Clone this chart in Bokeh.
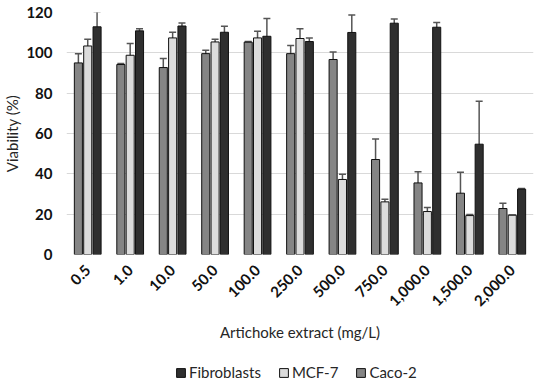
import math
from bokeh.plotting import figure
from bokeh.layouts import column
from bokeh.models import (ColumnDataSource, FactorRange, Range1d, Whisker, TeeHead,
                          Legend, LegendItem, FixedTicker)
from bokeh.transform import dodge
from bokeh.embed import file_html
from bokeh.resources import INLINE

categories = ["0.5", "1.0", "10.0", "50.0", "100.0", "250.0", "500.0", "750.0",
              "1,000.0", "1,500.0", "2,000.0"]
caco = [95.0, 94.2, 92.7, 99.6, 105.3, 99.6, 96.7, 47.1, 35.5, 30.4, 22.8]
caco_err = [4.6, 0.5, 4.5, 1.7, 0.3, 4.0, 3.7, 10.2, 5.5, 10.4, 2.6]
mcf = [103.4, 98.8, 107.4, 105.4, 107.4, 107.1, 37.2, 26.1, 21.3, 19.3, 19.5]
mcf_err = [3.3, 5.8, 2.8, 1.3, 3.3, 4.8, 2.6, 1.3, 2.0, 0.5, 0.0]
fib = [112.9, 110.9, 113.3, 110.2, 108.2, 105.6, 110.1, 114.7, 112.7, 54.7, 32.4]
fib_err = [7.5, 1.0, 1.5, 3.0, 8.8, 1.8, 8.7, 2.1, 2.3, 21.3, 0.3]
y_ticks = [0, 20, 40, 60, 80, 100, 120]

series = [
    ("Caco-2", caco, caco_err, "#858585", -0.22),
    ("MCF-7", mcf, mcf_err, "#dcdcdc", 0.0),
    ("Fibroblasts", fib, fib_err, "#2f2f2f", 0.22),
]
legend_order = ["Fibroblasts", "MCF-7", "Caco-2"]

FONT = "Lato"

p = figure(x_range=FactorRange(*categories), y_range=Range1d(0, 120),
           width=534, height=350, output_backend="svg", toolbar_location=None,
           min_border_left=60, min_border_right=1, min_border_top=12,
           min_border_bottom=96)
p.outline_line_color = None
p.background_fill_color = "white"

for name, vals, errs, color, off in series:
    src = ColumnDataSource(dict(
        x=categories, top=vals,
        upper=[v + e for v, e in zip(vals, errs)],
        lower=[v - e for v, e in zip(vals, errs)]))
    p.vbar(x=dodge("x", off, range=p.x_range), top="top", width=0.19,
           source=src, fill_color=color, line_color="#111111", line_width=1)
    w = Whisker(base=dodge("x", off, range=p.x_range), upper="upper", lower="lower",
                source=src, line_color="#555555", line_width=1.5,
                upper_head=TeeHead(size=7, line_color="#555555", line_width=1.5),
                lower_head=TeeHead(size=7, line_color="#555555", line_width=1.5))
    p.add_layout(w)

# axes
p.xgrid.grid_line_color = None
p.ygrid.grid_line_color = "#d9d9d9"
p.ygrid.grid_line_width = 1
p.yaxis.ticker = FixedTicker(ticks=y_ticks)

for ax in (p.xaxis[0], p.yaxis[0]):
    ax.axis_line_color = None
    ax.major_tick_line_color = None
    ax.minor_tick_line_color = None
    ax.major_tick_out = 0
    ax.major_tick_in = 0
    ax.major_label_text_font = FONT
    ax.major_label_text_font_style = "bold"
    ax.major_label_text_font_size = "15px"
    ax.major_label_text_color = "#111111"
    ax.axis_label_text_font = FONT
    ax.axis_label_text_font_style = "normal"
    ax.axis_label_text_font_size = "15px"
    ax.axis_label_text_color = "#262626"

p.yaxis.axis_label = "Viability (%)"
p.yaxis.major_label_standoff = 14
p.yaxis.axis_label_standoff = 2

p.xaxis.axis_label = "Artichoke extract (mg/L)"
p.xaxis.major_label_orientation = math.pi / 4
p.xaxis.major_label_standoff = 13
p.xaxis.axis_label_standoff = 9

# legend strip (frame is aligned with the main plot's frame)
lg = figure(width=534, height=32, output_backend="svg", toolbar_location=None,
            x_range=Range1d(0, 1), y_range=Range1d(0, 1),
            min_border=0, min_border_left=0, min_border_right=0,
            min_border_top=0, min_border_bottom=0)
lg.axis.visible = False
lg.grid.visible = False
lg.outline_line_color = None
items = []
for name in legend_order:
    color = [s[3] for s in series if s[0] == name][0]
    r = lg.vbar(x=[float("nan")], top=[float("nan")], width=0.1, fill_color=color,
                line_color="#111111", line_width=1)
    items.append(LegendItem(label=name, renderers=[r]))
legend = Legend(items=items, orientation="horizontal", location=(109, 1),
                label_text_font=FONT, label_text_font_size="15px",
                label_text_color="#262626", label_height=14,
                glyph_width=11, glyph_height=11, spacing=17, label_standoff=3,
                border_line_color=None, background_fill_alpha=0,
                margin=0, padding=0)
lg.add_layout(legend, "center")

layout = column(p, lg, spacing=0)
open("out.html", "w").write(file_html(layout, INLINE))
